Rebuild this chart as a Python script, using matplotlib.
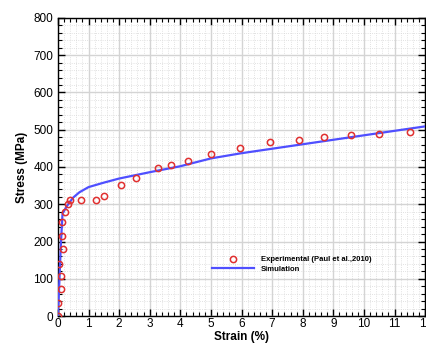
import matplotlib
matplotlib.use("Agg")
import matplotlib.pyplot as plt
from matplotlib.ticker import MultipleLocator

plt.rcParams['font.family'] = ['Liberation Sans', 'DejaVu Sans']

exp_strain = [0.0, 0.0, 0.1, 0.1, 0.03, 0.15, 0.14, 0.13, 0.24, 0.32, 0.41, 0.77, 1.23, 1.51,
              2.06, 2.55, 3.28, 3.69, 4.25, 5.0, 5.95, 6.92, 7.87, 8.69, 9.59, 10.49, 11.5]
exp_stress = [0, 35, 73, 108, 139, 179, 215, 253, 278, 300, 311, 311, 311, 322,
              352, 371, 396, 404, 416, 435, 451, 466, 472, 480, 487, 489, 494]

sim_strain = [0.0, 0.05, 0.1, 0.15, 0.3, 0.5, 0.7, 1.0, 1.5, 2.0, 3.0, 4.0, 5.0, 6.0, 7.0,
              8.0, 9.0, 10.0, 11.0, 12.0]
sim_stress = [0, 100, 200, 275, 296, 318, 332, 346, 358, 369, 386, 402, 423, 437, 449,
              461, 473, 485, 497, 509]

fig = plt.figure(figsize=(4.26, 3.45), dpi=100)
ax = fig.add_axes([0.136, 0.084, 0.862, 0.864])

ax.plot(sim_strain, sim_stress, color='#4f4fff', lw=1.6, label='Simulation', zorder=3)
ax.plot(exp_strain, exp_stress, 'o', mfc='none', mec='#e03030', mew=1.1, ms=4.5,
        label='Experimental (Paul et al.,2010)', zorder=4)

ax.set_xlim(0, 12)
ax.set_ylim(0, 800)
ax.xaxis.set_major_locator(MultipleLocator(1))
ax.xaxis.set_minor_locator(MultipleLocator(0.2))
ax.yaxis.set_major_locator(MultipleLocator(100))
ax.yaxis.set_minor_locator(MultipleLocator(20))

ax.grid(which='major', color='#d4d4d4', lw=1.0, ls='-', zorder=0)
ax.grid(which='minor', color='#d8d8d8', lw=0.6, ls=':', zorder=0)
ax.set_axisbelow(True)

ax.tick_params(which='both', direction='in', top=True, right=True, labelsize=8.5, colors='black')
ax.tick_params(which='major', length=5, width=1)
ax.tick_params(axis='x', which='major', pad=1.5)
ax.tick_params(which='minor', length=3, width=0.8)
for s in ax.spines.values():
    s.set_linewidth(1.0)

ax.set_xlabel('Strain (%)', fontsize=8.5, fontweight='bold', labelpad=1)
ax.set_ylabel('Stress (MPa)', fontsize=8.5, fontweight='bold', labelpad=4)

handles, labels = ax.get_legend_handles_labels()
ax.legend(handles[::-1], labels[::-1], loc='upper left', bbox_to_anchor=(0.4, 0.225),
          frameon=False, prop={'size': 5.5, 'weight': 'bold'}, handlelength=5.5,
          labelspacing=0.3, handletextpad=0.9)

fig.savefig('out.png', dpi=100)
